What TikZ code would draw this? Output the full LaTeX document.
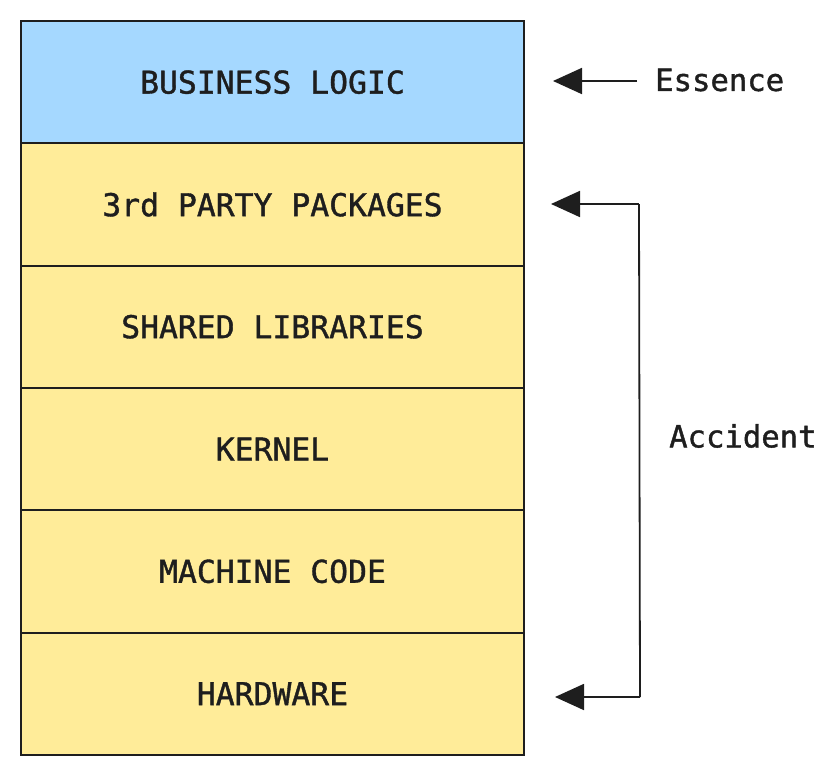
\documentclass[tikz,border=0pt]{standalone}
\usepackage{fontspec}
\setmonofont[FakeBold=1.2]{DejaVu Sans Mono}
\usetikzlibrary{arrows.meta}
\definecolor{strokec}{HTML}{1E1E1E}
\definecolor{bluef}{HTML}{A5D8FF}
\definecolor{yellowf}{HTML}{FFEC99}
\tikzset{
  layer/.style={draw=strokec, line width=2pt, minimum width=503pt, minimum height=122.3pt, inner sep=0pt, anchor=north west, font=\ttfamily\fontsize{31.4}{31.4}\selectfont, text=strokec},
  lbl/.style={font=\ttfamily\fontsize{30.6}{30.6}\selectfont, text=strokec, anchor=west, inner sep=0pt},
  arr/.style={draw=strokec, line width=1.8pt, -{Triangle[length=29pt,width=26pt]}},
}
\begin{document}
\begin{tikzpicture}[x=1pt,y=-1pt]
\useasboundingbox (0,0) rectangle (839,774);
\node[layer, fill=bluef]   (bl) at (20,20)    {BUSINESS LOGIC};
\node[layer, fill=yellowf] (tp) at (20,142.3) {3rd PARTY PACKAGES};
\node[layer, fill=yellowf] (sl) at (20,264.6) {SHARED LIBRARIES};
\node[layer, fill=yellowf] (kn) at (20,386.9) {KERNEL};
\node[layer, fill=yellowf] (mc) at (20,509.2) {MACHINE CODE};
\node[layer, fill=yellowf] (hw) at (20,631.5) {HARDWARE};
\node[lbl] (ess) at (655,80) {Essence};
\node[lbl] (acc) at (669,436) {Accident};
\coordinate (et) at (553,81);
\coordinate (es) at (637,81);
\coordinate (at) at (551,204);
\coordinate (ab) at (555,697);
\coordinate (c1) at (639,204);
\coordinate (c2) at (640,697);
\draw[arr] (es) -- (et);
\draw[arr, -] (c1) -- (c2);
\draw[arr] (c1) -- (at);
\draw[arr] (c2) -- (ab);
\end{tikzpicture}
\end{document}
